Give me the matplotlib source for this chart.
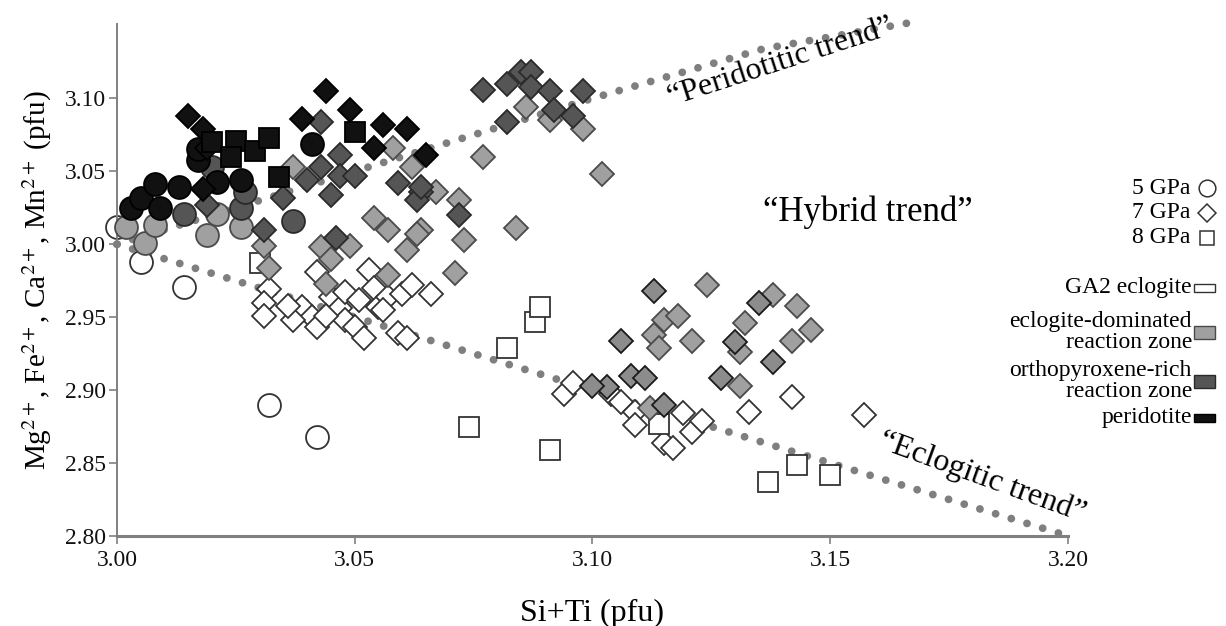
import matplotlib
matplotlib.use('Agg')
import matplotlib.pyplot as plt
from matplotlib.lines import Line2D
from matplotlib.patches import Rectangle

plt.rcParams['font.family'] = ['Liberation Serif', 'DejaVu Serif']
plt.rcParams['mathtext.fontset'] = 'stix'

# garnet compositions (Si+Ti, Mg+Fe+Ca+Mn), grouped by pressure and zone
gpa5_ga2 = [(3.000, 3.012), (3.005, 2.988), (3.014, 2.971), (3.032, 2.890), (3.042, 2.868)]
gpa5_ecl_zone = [(3.002, 3.012), (3.006, 3.001), (3.008, 3.013), (3.019, 3.006),
                 (3.021, 3.021), (3.026, 3.012)]
gpa5_opx_zone = [(3.014, 3.021), (3.026, 3.025), (3.027, 3.036), (3.020, 3.053), (3.037, 3.016)]
gpa5_perid = [(3.003, 3.025), (3.005, 3.032), (3.008, 3.041), (3.009, 3.025), (3.013, 3.039),
              (3.017, 3.058), (3.021, 3.043), (3.026, 3.044), (3.041, 3.069), (3.017, 3.065)]

gpa7_ga2 = [(3.032, 2.969), (3.031, 2.960), (3.031, 2.951), (3.042, 2.981), (3.039, 2.957),
            (3.041, 2.950), (3.042, 2.943), (3.045, 2.964), (3.047, 2.956), (3.048, 2.967),
            (3.051, 2.962), (3.053, 2.982), (3.054, 2.970), (3.048, 2.948), (3.050, 2.943),
            (3.052, 2.936), (3.055, 2.957), (3.057, 2.964), (3.060, 2.966), (3.062, 2.972),
            (3.066, 2.966), (3.059, 2.939), (3.061, 2.936), (3.037, 2.948), (3.044, 2.951),
            (3.056, 2.955), (3.036, 2.958), (3.094, 2.897), (3.096, 2.905), (3.104, 2.897),
            (3.106, 2.892), (3.109, 2.885), (3.109, 2.876), (3.115, 2.864), (3.117, 2.860),
            (3.119, 2.884), (3.121, 2.871), (3.123, 2.879), (3.133, 2.885), (3.142, 2.895),
            (3.157, 2.883)]
gpa7_ecl_zone = [(3.086, 3.094), (3.091, 3.085), (3.098, 3.079), (3.077, 3.060), (3.102, 3.048),
                 (3.084, 3.011), (3.071, 2.980), (3.073, 3.003), (3.072, 3.030), (3.067, 3.036),
                 (3.062, 3.053), (3.058, 3.066), (3.054, 3.018), (3.057, 3.010), (3.064, 3.010),
                 (3.061, 2.996), (3.049, 2.999), (3.037, 3.053), (3.043, 2.998), (3.031, 2.999),
                 (3.032, 2.984), (3.063, 3.007), (3.045, 2.990), (3.057, 2.979), (3.044, 2.973),
                 (3.124, 2.972), (3.115, 2.948), (3.118, 2.951), (3.113, 2.938), (3.114, 2.929),
                 (3.121, 2.934), (3.138, 2.965), (3.143, 2.958), (3.132, 2.946), (3.131, 2.926),
                 (3.142, 2.934), (3.146, 2.941), (3.131, 2.903), (3.112, 2.888)]
gpa7_mixed_zone = [(3.113, 2.968), (3.106, 2.934), (3.130, 2.933), (3.138, 2.919), (3.127, 2.908),
                   (3.108, 2.910), (3.111, 2.908), (3.115, 2.890), (3.103, 2.902), (3.100, 2.903),
                   (3.135, 2.960)]
gpa7_opx_zone = [(3.077, 3.106), (3.082, 3.110), (3.085, 3.118), (3.087, 3.118), (3.087, 3.108),
                 (3.091, 3.105), (3.098, 3.105), (3.092, 3.092), (3.096, 3.088), (3.082, 3.084),
                 (3.043, 3.084), (3.047, 3.061), (3.043, 3.053), (3.040, 3.044), (3.045, 3.034),
                 (3.047, 3.047), (3.050, 3.047), (3.059, 3.042), (3.064, 3.036), (3.063, 3.030),
                 (3.072, 3.020), (3.046, 3.004), (3.031, 3.010), (3.035, 3.032), (3.064, 3.039),
                 (3.019, 3.027)]
gpa7_perid = [(3.015, 3.088), (3.018, 3.079), (3.019, 3.066), (3.018, 3.038), (3.039, 3.086),
              (3.044, 3.105), (3.049, 3.092), (3.056, 3.082), (3.061, 3.079), (3.054, 3.066),
              (3.065, 3.061)]

gpa8_ga2 = [(3.030, 2.987), (3.074, 2.875), (3.088, 2.947), (3.089, 2.957), (3.082, 2.929),
            (3.091, 2.859), (3.114, 2.877), (3.137, 2.837), (3.143, 2.849), (3.150, 2.842)]
gpa8_perid = [(3.020, 3.070), (3.025, 3.071), (3.029, 3.064), (3.032, 3.073), (3.034, 3.046),
              (3.024, 3.060), (3.050, 3.077)]

# trend lines
perid_trend_x = [3.000, 3.100, 3.136, 3.167]
perid_trend_y = [3.000, 3.100, 3.134, 3.152]
eclog_trend_x = [3.000, 3.200]
eclog_trend_y = [3.000, 2.800]

x_ticks = [3.00, 3.05, 3.10, 3.15, 3.20]
y_ticks = [2.80, 2.85, 2.90, 2.95, 3.00, 3.05, 3.10]

fills = {'ga2': 'white', 'ecl': '#a0a0a0', 'mix': '#8c8c8c', 'opx': '#555555', 'per': '#111111'}
edges = {'ga2': '#333333', 'ecl': '#4a4a4a', 'mix': '#1a1a1a', 'opx': '#2a2a2a', 'per': '#000000'}
shape = {'o': 16.5, 'D': 12.0, 's': 14.2}

fig = plt.figure(figsize=(12.26, 6.26), dpi=100)
ax = fig.add_axes([0.0954, 0.1438, 0.7757, 0.8179])

dot_style = dict(color='#7f7f7f', lw=5.6, linestyle=(0, (0.01, 2.1)),
                 dash_capstyle='round', zorder=1)
ax.plot(perid_trend_x, perid_trend_y, clip_on=False, **dot_style)
ax.plot(eclog_trend_x, eclog_trend_y, clip_on=False, **dot_style)

layers = [
    ('ga2', [(gpa7_ga2, 'D'), (gpa8_ga2, 's'), (gpa5_ga2, 'o')]),
    ('ecl', [(gpa7_ecl_zone, 'D'), (gpa5_ecl_zone, 'o')]),
    ('mix', [(gpa7_mixed_zone, 'D')]),
    ('opx', [(gpa7_opx_zone, 'D'), (gpa5_opx_zone, 'o')]),
    ('per', [(gpa5_perid, 'o'), (gpa7_perid, 'D'), (gpa8_perid, 's')]),
]
z = 2
for key, sets in layers:
    for pts, m in sets:
        xs = [p[0] for p in pts]
        ys = [p[1] for p in pts]
        ax.plot(xs, ys, linestyle='none', marker=m, ms=shape[m],
                mfc=fills[key], mec=edges[key], mew=1.3, zorder=z, clip_on=False)
    z += 1

ax.set_xlim(3.00, 3.20)
ax.set_ylim(2.80, 3.151)
ax.set_xticks(x_ticks)
ax.set_yticks(y_ticks)
ax.set_xticklabels(['%.2f' % v for v in x_ticks])
ax.set_yticklabels(['%.2f' % v for v in y_ticks])
for s in ['top', 'right']:
    ax.spines[s].set_visible(False)
for s in ['left', 'bottom']:
    ax.spines[s].set_color('#808080')
ax.spines['left'].set_linewidth(1.4)
ax.spines['bottom'].set_linewidth(2.2)
ax.tick_params(axis='both', colors='#808080', labelcolor='#111111', labelsize=17,
               length=6, width=1.2, direction='out')
ax.tick_params(axis='y', pad=2)
ax.tick_params(axis='x', pad=4)

ax.set_xlabel('Si+Ti (pfu)', fontsize=23, labelpad=20)
ax.set_ylabel(r'Mg$^{2+}$, Fe$^{2+}$, Ca$^{2+}$, Mn$^{2+}$ (pfu)', fontsize=21, labelpad=8)

ax.text(3.1395, 3.1245, '\u201cPeridotitic trend\u201d', fontsize=23, rotation=18,
        ha='center', va='center')
ax.text(3.158, 3.022, '\u201cHybrid trend\u201d', fontsize=25, ha='center', va='center')
ax.text(3.182, 2.840, '\u201cEclogitic trend\u201d', fontsize=23, rotation=-20,
        ha='center', va='center')

# legend on the right, drawn in figure coordinates
W, H = 1226.0, 626.0
tx = 1190 / W
for label, m, yy in [('5 GPa', 'o', 188), ('7 GPa', 'D', 213), ('8 GPa', 's', 238)]:
    fig.text(tx, 1 - yy / H, label, ha='right', va='center', fontsize=17)
    ms = {'o': 12, 'D': 9, 's': 10}[m]
    fig.add_artist(Line2D([1207 / W], [1 - yy / H], marker=m, ms=ms, mfc='white',
                          mec='#333333', mew=1.1, transform=fig.transFigure))

zone_entries = [('GA2 eclogite', 'ga2', 288, 8),
                ('eclogite-dominated\nreaction zone', 'ecl', 332, 13),
                ('orthopyroxene-rich\nreaction zone', 'opx', 381, 13),
                ('peridotite', 'per', 418, 8)]
for label, key, yy, hh in zone_entries:
    t = fig.text(1192 / W, 1 - yy / H, label, ha='right', va='center', fontsize=17,
                 linespacing=1.0)
    t.set_multialignment('right')
    fig.add_artist(Rectangle((1194 / W, 1 - (yy + hh / 2) / H), 21 / W, hh / H,
                             transform=fig.transFigure, facecolor=fills[key],
                             edgecolor=edges[key], lw=1.0))

fig.savefig('out.png', dpi=100)
